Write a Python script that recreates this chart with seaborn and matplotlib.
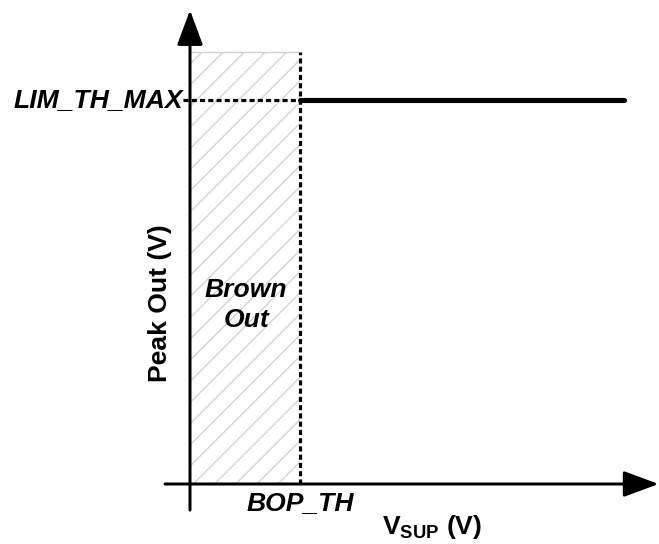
import matplotlib
matplotlib.use("Agg")
import matplotlib.pyplot as plt
import seaborn as sns
import pandas as pd

# Data (arbitrary units: BOP_TH = 1, LIM_TH_MAX = 1)
bop_th = 1.0
lim_th_max = 1.0
brownout_top = 1.125
vsup = [1.0, 3.95]
peak_out = [1.0, 1.0]
x_axis_span = [-0.227, 4.26]
y_axis_span = [-0.068, 1.234]

sns.set_style("white")
plt.rcParams['font.family'] = ['Liberation Sans', 'DejaVu Sans']
plt.rcParams['text.color'] = 'black'
plt.rcParams['mathtext.fontset'] = 'custom'
plt.rcParams['mathtext.bf'] = 'Liberation Sans:bold'
plt.rcParams['mathtext.rm'] = 'Liberation Sans'
plt.rcParams['hatch.color'] = '#d4d4d4'
plt.rcParams['hatch.linewidth'] = 0.8

DPI = 127
fig = plt.figure(figsize=(659 / DPI, 544 / DPI), dpi=DPI)
ax = fig.add_axes([0, 0, 1, 1])
ax.set_xlim(-190 / 110, 469 / 110)
ax.set_ylim(-60 / 384, 484 / 384)
ax.axis('off')

# brown-out hatched region
ax.fill_between([0, bop_th], 0, brownout_top, facecolor='none',
                edgecolor='#d4d4d4', hatch='//', linewidth=0)
ax.plot([0, bop_th], [brownout_top, brownout_top], color='#d0d0d0', lw=0.8)

# dashed guides
dash = (0, (1.6, 1.0))
ax.plot([bop_th, bop_th], [0, brownout_top], color='black', lw=1.8, ls=dash)
ax.plot([-0.06, bop_th], [lim_th_max, lim_th_max], color='black', lw=1.8, ls=dash)

# peak out line
df = pd.DataFrame({'vsup': vsup, 'peak': peak_out})
sns.lineplot(data=df, x='vsup', y='peak', ax=ax, color='black', lw=2.9)

# axes with arrows
arrow = dict(arrowstyle='-|>,head_length=1.7,head_width=0.63', lw=1.7,
             color='black', mutation_scale=10, shrinkA=0, shrinkB=0)
ax.annotate('', xy=(x_axis_span[1], 0), xytext=(x_axis_span[0], 0), arrowprops=arrow)
ax.annotate('', xy=(0, y_axis_span[1]), xytext=(0, y_axis_span[0]), arrowprops=arrow)

# labels
fs = 15
ax.text(-0.06, lim_th_max, 'LIM_TH_MAX', ha='right', va='center',
        fontsize=fs, fontweight='bold', fontstyle='italic')
ax.text(bop_th, -0.049, 'BOP_TH', ha='center', va='center',
        fontsize=fs, fontweight='bold', fontstyle='italic')
ax.text(0.51, 0.466, 'Brown\nOut', ha='center', va='center', fontsize=fs,
        fontweight='bold', fontstyle='italic', linespacing=1.3)
ax.text(-0.27, 0.47, 'Peak Out (V)', ha='center', va='center', rotation=90,
        fontsize=fs, fontweight='bold')
ax.text(2.2, -0.112, r'$\mathbf{V_{SUP}}$ (V)', ha='center', va='center',
        fontsize=fs, fontweight='bold')

fig.savefig('out.png', dpi=DPI)
plt.close(fig)
